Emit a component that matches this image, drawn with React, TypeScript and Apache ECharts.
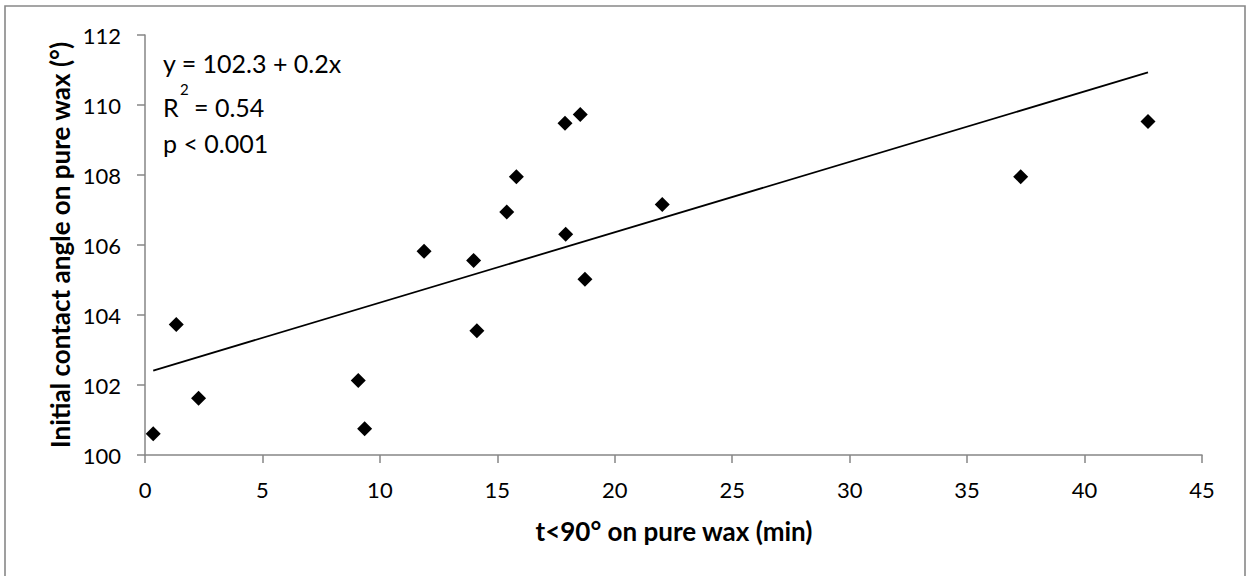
import React, { useEffect, useRef } from "react";
import * as echarts from "echarts";

// t<90° on pure wax (min)
const xValues = [0.35, 1.33, 2.28, 9.08, 9.35, 11.88, 13.99, 14.13, 15.4, 15.81, 17.88, 18.53, 17.91, 18.73, 22.02, 37.28, 42.7];
// Initial contact angle on pure wax (°)
const yValues = [100.61, 103.73, 101.62, 102.13, 100.75, 105.82, 105.56, 103.55, 106.94, 107.95, 109.48, 109.73, 106.31, 105.02, 107.16, 107.95, 109.53];

const xTitle = "t<90° on pure wax (min)";
const yTitle = "Initial contact angle on pure wax (°)";
const eqLine = "y = 102.3 + 0.2x";
const r2Value = "= 0.54";
const pLine = "p < 0.001";

const FONT = "Lato, 'Open Sans', sans-serif";

export default function App() {
  const ref = useRef<HTMLDivElement>(null);
  useEffect(() => {
    if (!ref.current) return;
    const chart = echarts.init(ref.current, null, { renderer: "svg" });

    const n = xValues.length;
    const mx = xValues.reduce((a, b) => a + b, 0) / n;
    const my = yValues.reduce((a, b) => a + b, 0) / n;
    let sxy = 0, sxx = 0;
    for (let i = 0; i < n; i++) {
      sxy += (xValues[i] - mx) * (yValues[i] - my);
      sxx += (xValues[i] - mx) * (xValues[i] - mx);
    }
    const slope = sxy / sxx;
    const intercept = my - slope * mx;
    const x0 = Math.min(...xValues);
    const x1 = Math.max(...xValues);
    const trend = [
      [x0, intercept + slope * x0],
      [x1, intercept + slope * x1],
    ];

    const axisColor = "#868686";
    const textStyle = (size: number, bold = false) => ({
      fontSize: size,
      fontFamily: FONT,
      fontWeight: bold ? "bold" : "normal",
      fill: "#000",
    });

    chart.setOption({
      animation: false,
      backgroundColor: "#fff",
      grid: { left: 145, right: 46, top: 35, bottom: 121 },
      xAxis: {
        type: "value",
        min: 0,
        max: 45,
        interval: 5,
        splitLine: { show: false },
        axisLine: { onZero: false, lineStyle: { color: axisColor, width: 1.5 } },
        axisTick: { show: true, inside: false, length: 8, lineStyle: { color: axisColor, width: 1.5 } },
        axisLabel: { color: "#000", fontSize: 22, fontFamily: FONT, margin: 23 },
      },
      yAxis: {
        type: "value",
        min: 100,
        max: 112,
        interval: 2,
        splitLine: { show: false },
        axisLine: { show: true, onZero: false, lineStyle: { color: axisColor, width: 1.5 } },
        axisTick: { show: true, inside: false, length: 8, lineStyle: { color: axisColor, width: 1.5 } },
        axisLabel: { color: "#000", fontSize: 22, fontFamily: FONT, margin: 24 },
      },
      series: [
        {
          type: "line",
          data: trend,
          symbol: "none",
          lineStyle: { color: "#000", width: 1.8 },
          z: 1,
        },
        {
          type: "scatter",
          data: xValues.map((x, i) => [x, yValues[i]]),
          symbol: "diamond",
          symbolSize: 15,
          itemStyle: { color: "#000", opacity: 1 },
          z: 2,
        },
      ],
      graphic: [
        {
          type: "rect",
          shape: { x: 5, y: 6, width: 1240, height: 620 },
          style: { fill: "none", stroke: "#888888", lineWidth: 1.6 },
          silent: true,
        },
        {
          type: "text",
          x: 674,
          y: 531,
          style: { ...textStyle(26, true), text: xTitle, align: "center", verticalAlign: "middle" },
        },
        {
          type: "text",
          x: 60,
          y: 245,
          rotation: Math.PI / 2,
          style: { ...textStyle(26, true), text: yTitle, align: "center", verticalAlign: "middle" },
        },
        {
          type: "text",
          x: 163,
          y: 63,
          style: { ...textStyle(25), text: eqLine, align: "left", verticalAlign: "middle" },
        },
        {
          type: "text",
          x: 163,
          y: 107,
          style: { ...textStyle(25), text: "R", align: "left", verticalAlign: "middle" },
        },
        {
          type: "text",
          x: 180,
          y: 89,
          style: { ...textStyle(15), text: "2", align: "left", verticalAlign: "middle" },
        },
        {
          type: "text",
          x: 194,
          y: 107,
          style: { ...textStyle(25), text: r2Value, align: "left", verticalAlign: "middle" },
        },
        {
          type: "text",
          x: 163,
          y: 143,
          style: { ...textStyle(25), text: pLine, align: "left", verticalAlign: "middle" },
        },
      ],
    });
    return () => chart.dispose();
  }, []);
  return (
    <div
      ref={ref}
      style={{ position: "absolute", left: 0, top: 0, width: 1248, height: 576 }}
    />
  );
}
